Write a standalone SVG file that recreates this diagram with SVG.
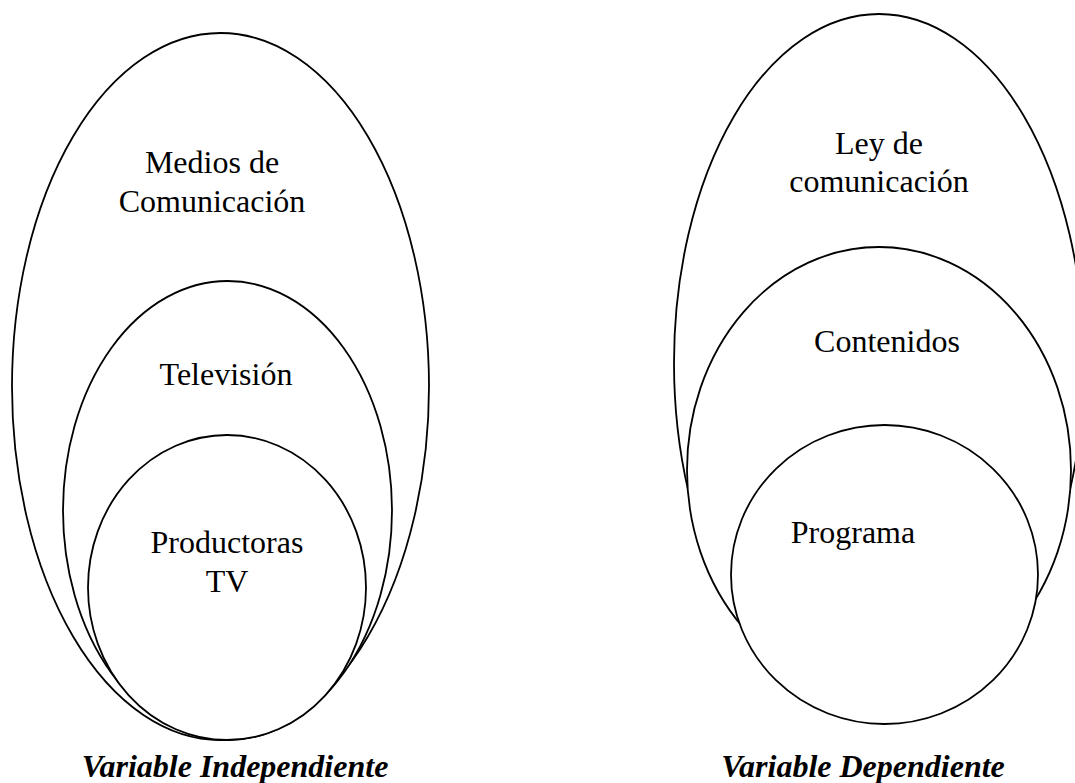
<svg xmlns="http://www.w3.org/2000/svg" width="1075" height="783" viewBox="0 0 1075 783">
  <style>
    .shape { fill: #ffffff; stroke: #000000; stroke-width: 1.8; }
    .lbl { font-family: "Liberation Serif", "Times New Roman", serif; font-size: 32px; fill: #000000; text-anchor: middle; }
    .cap { font-family: "Liberation Serif", "Times New Roman", serif; font-size: 32px; font-weight: bold; font-style: italic; fill: #000000; text-anchor: middle; }
  </style>
  <rect x="0" y="0" width="1075" height="783" fill="#ffffff"/>

  <!-- Left set: Variable Independiente -->
  <g id="medios-de-comunicacion">
    <ellipse class="shape" cx="220.5" cy="386.5" rx="208.5" ry="353.5"/>
    <text class="lbl" x="212" y="173">Medios de</text>
    <text class="lbl" x="212" y="212">Comunicación</text>
  </g>
  <g id="television">
    <ellipse class="shape" cx="227.5" cy="510.5" rx="164.5" ry="229.5"/>
    <text class="lbl" x="226" y="385">Televisión</text>
  </g>
  <g id="productoras-tv">
    <ellipse class="shape" cx="227" cy="587.5" rx="139" ry="152.5"/>
    <text class="lbl" x="227" y="553">Productoras</text>
    <text class="lbl" x="227" y="592">TV</text>
  </g>

  <!-- Right set: Variable Dependiente -->
  <g id="ley-de-comunicacion">
    <ellipse class="shape" cx="879" cy="363" rx="205" ry="349"/>
    <text class="lbl" x="879" y="154">Ley de</text>
    <text class="lbl" x="879" y="192">comunicación</text>
  </g>
  <g id="contenidos">
    <ellipse class="shape" cx="879" cy="470" rx="192" ry="223"/>
    <text class="lbl" x="887" y="352">Contenidos</text>
  </g>
  <g id="programa">
    <ellipse class="shape" cx="884.5" cy="574.5" rx="153.5" ry="149.5"/>
    <text class="lbl" x="853" y="543">Programa</text>
  </g>

  <g id="connectors"/>

  <g id="captions">
    <text class="cap" x="235" y="777">Variable Independiente</text>
    <text class="cap" x="863" y="777">Variable Dependiente</text>
  </g>
</svg>
